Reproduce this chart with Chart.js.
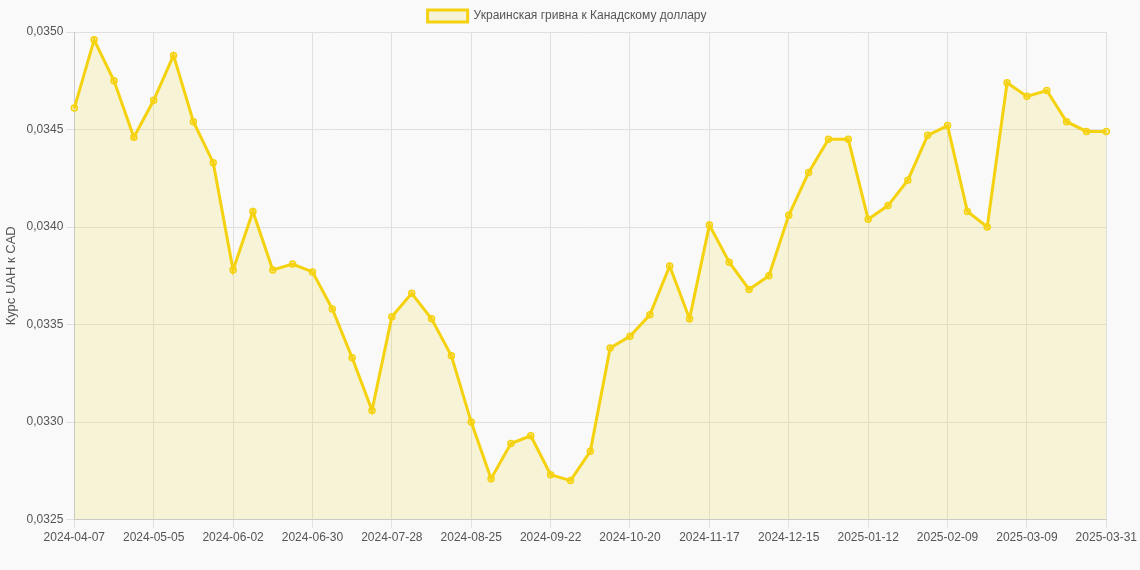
<!DOCTYPE html>
<html>
<head>
<meta charset="utf-8">
<script src="https://cdn.jsdelivr.net/npm/chart.js@4"></script>
<style>
  body { margin: 0; background: #f9f9f9; }
  .wrap { width: 1140px; height: 570px; }
</style>
</head>
<body>
<div class="wrap"><canvas id="rateChart"></canvas></div>
<script>
// Weekly dates
const labels = [
    '2024-04-07','2024-04-14','2024-04-21','2024-04-28','2024-05-05','2024-05-12','2024-05-19','2024-05-26',
    '2024-06-02','2024-06-09','2024-06-16','2024-06-23','2024-06-30','2024-07-07','2024-07-14','2024-07-21',
    '2024-07-28','2024-08-04','2024-08-11','2024-08-18','2024-08-25','2024-09-01','2024-09-08','2024-09-15',
    '2024-09-22','2024-09-29','2024-10-06','2024-10-13','2024-10-20','2024-10-27','2024-11-03','2024-11-10',
    '2024-11-17','2024-11-24','2024-12-01','2024-12-08','2024-12-15','2024-12-22','2024-12-29','2025-01-05',
    '2025-01-12','2025-01-19','2025-01-26','2025-02-02','2025-02-09','2025-02-16','2025-02-23','2025-03-02',
    '2025-03-09','2025-03-16','2025-03-23','2025-03-30','2025-03-31'
];

// UAH -> CAD rate
const rates = [
    0.03461, 0.03496, 0.03475, 0.03446, 0.03465, 0.03488, 0.03454, 0.03433,
    0.03378, 0.03408, 0.03378, 0.03381, 0.03377, 0.03358, 0.03333, 0.03306,
    0.03354, 0.03366, 0.03353, 0.03334, 0.03300, 0.03271, 0.03289, 0.03293,
    0.03273, 0.03270, 0.03285, 0.03338, 0.03344, 0.03355, 0.03380, 0.03353,
    0.03401, 0.03382, 0.03368, 0.03375, 0.03406, 0.03428, 0.03445, 0.03445,
    0.03404, 0.03411, 0.03424, 0.03447, 0.03452, 0.03408, 0.03400, 0.03474,
    0.03467, 0.03470, 0.03454, 0.03449, 0.03449
];

const shown = i => i % 4 === 0 || i === labels.length - 1;

Chart.defaults.font.family = "'Liberation Sans', Arial, sans-serif";
Chart.defaults.color = '#555';

new Chart(document.getElementById('rateChart'), {
    type: 'line',
    data: {
        labels: labels,
        datasets: [{
            label: 'Украинская гривна к Канадскому доллару',
            data: rates,
            borderColor: '#f5d20f',
            backgroundColor: 'rgba(240, 215, 60, 0.18)',
            pointBackgroundColor: 'rgba(245, 210, 15, 0.3)',
            pointBorderColor: '#f5d20f',
            pointRadius: 3,
            pointBorderWidth: 1.5,
            borderWidth: 3,
            tension: 0,
            fill: true
        }]
    },
    options: {
        responsive: true,
        maintainAspectRatio: false,
        animation: false,
        layout: { padding: { right: 6, bottom: 22 } },
        plugins: {
            legend: {
                labels: { font: { size: 12 }, boxWidth: 40, boxHeight: 12 }
            }
        },
        scales: {
            x: {
                grid: {
                    color: ctx => shown(ctx.index) ? '#e0e0e0' : 'rgba(0,0,0,0)'
                },
                ticks: {
                    autoSkip: false,
                    maxRotation: 0,
                    font: { size: 12 },
                    callback: (value, index) => shown(index) ? labels[index] : ''
                }
            },
            y: {
                min: 0.0325,
                max: 0.0350,
                grid: { color: '#e0e0e0' },
                title: { display: true, text: 'Курс UAH к CAD', font: { size: 13 } },
                ticks: {
                    stepSize: 0.0005,
                    font: { size: 12 },
                    callback: v => v.toFixed(4).replace('.', ',')
                }
            }
        }
    }
});
</script>
</body>
</html>
